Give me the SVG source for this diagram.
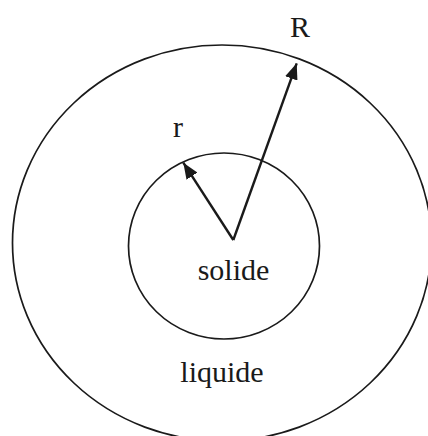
<svg xmlns="http://www.w3.org/2000/svg" width="428" height="436" viewBox="0 0 428 436">
<defs>
<marker id="ah" viewBox="0 0 16 13" refX="16" refY="6.5" markerWidth="16" markerHeight="13" markerUnits="userSpaceOnUse" orient="auto">
<path d="M0,0 L16,6.5 L0,13 z" fill="#1a1a1a"/>
</marker>
</defs>
<style>
.c{fill:none;stroke:#1a1a1a;stroke-width:1.7}
.a{fill:none;stroke:#1a1a1a;stroke-width:2.4}
.t{font-family:"Liberation Serif","Times New Roman",serif;font-size:30px;fill:#1a1a1a}
</style>
<rect width="428" height="436" fill="#fff"/>
<g id="liquide">
<ellipse class="c" cx="222" cy="243" rx="209.5" ry="198"/>
<text class="t" x="222" y="382" text-anchor="middle">liquide</text>
</g>
<g id="solide">
<ellipse class="c" cx="224" cy="246" rx="95.5" ry="93"/>
<text class="t" x="233.5" y="280" text-anchor="middle">solide</text>
</g>
<g id="connectors">
<line class="a" x1="233.3" y1="240" x2="183.3" y2="162.7" marker-end="url(#ah)"/>
<line class="a" x1="233.3" y1="240" x2="296.7" y2="63.3" marker-end="url(#ah)"/>
</g>
<g id="labels">
<text class="t" x="300" y="37" text-anchor="middle">R</text>
<text class="t" x="178" y="137" text-anchor="middle">r</text>
</g>
</svg>
